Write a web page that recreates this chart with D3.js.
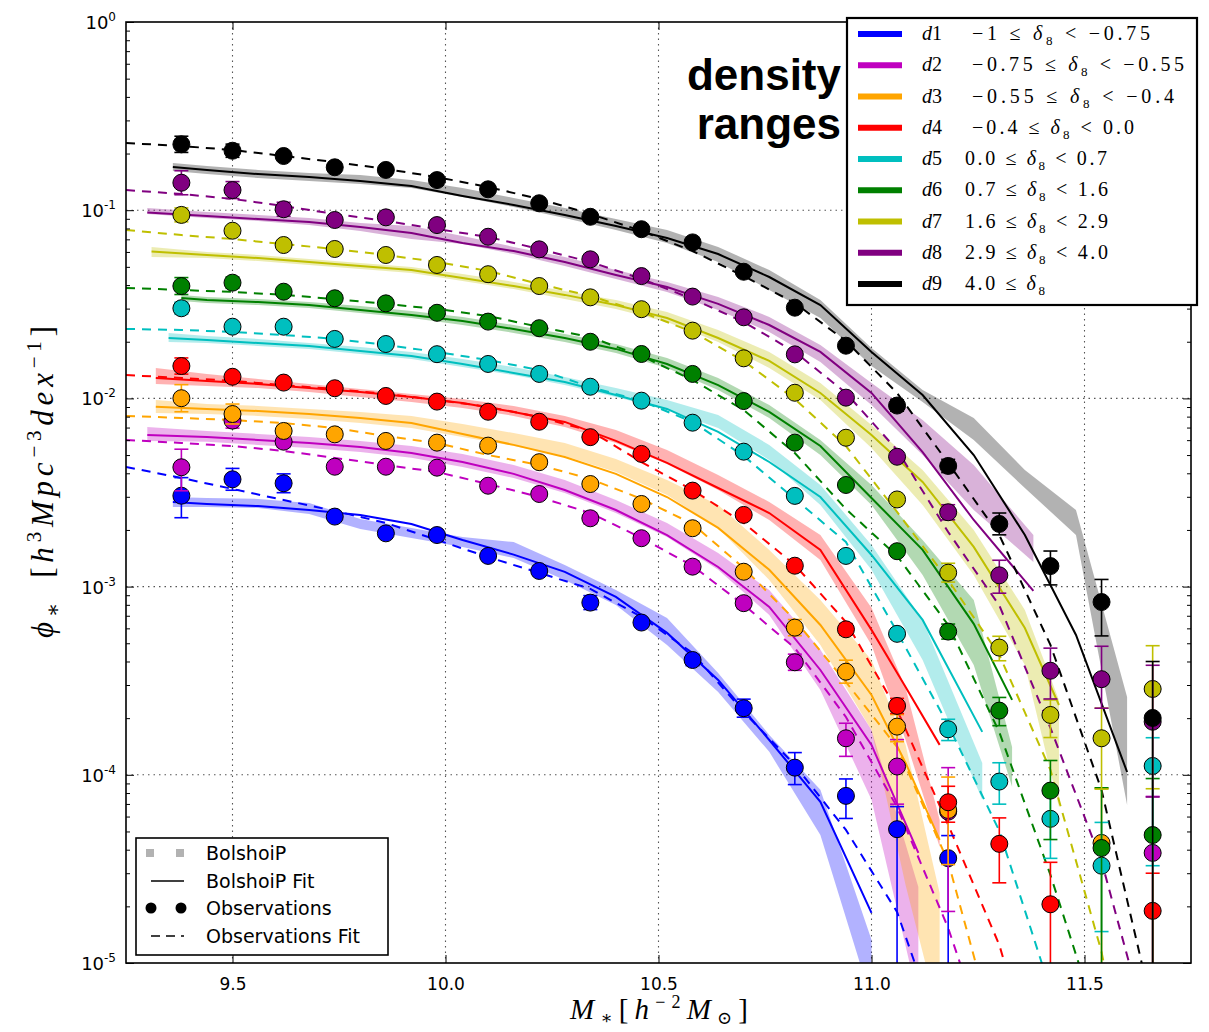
<!DOCTYPE html>
<html>
<head>
<meta charset="utf-8">
<script src="https://cdn.jsdelivr.net/npm/d3@7"></script>
<style>
  body { margin: 0; background: #fff; }
</style>
</head>
<body>
<svg id="chart" width="1209" height="1032"></svg>
<script>
// ---- data (phi values stored as log10) ----
const binNames = ["d1", "d2", "d3", "d4", "d5", "d6", "d7", "d8", "d9"];
const binColors = ["#0000ff", "#bf00bf", "#ffa500", "#ff0000", "#00bfbf", "#008000", "#bfbf00", "#800080", "#000000"];
const rangeLeft = ["\u22121 \u2264 ", "\u22120.75 \u2264 ", "\u22120.55 \u2264 ", "\u22120.4 \u2264 ", "0.0 \u2264 ", "0.7 \u2264 ", "1.6 \u2264 ", "2.9 \u2264 ", "4.0 \u2264 "];
const rangeRight = [" < \u22120.75", " < \u22120.55", " < \u22120.4", " < 0.0", " < 0.7", " < 1.6", " < 2.9", " < 4.0", ""];
const rangeWidth = [178, 212, 202, 162, 142, 143, 143, 143, 80];

const xTicks = [9.5, 10.0, 10.5, 11.0, 11.5];
const yMajor = [1, 1e-1, 1e-2, 1e-3, 1e-4, 1e-5];
const yExp = ["0", "-1", "-2", "-3", "-4", "-5"];

// observations
const obsMass = [9.38, 9.50, 9.62, 9.74, 9.86, 9.98, 10.10, 10.22, 10.34, 10.46, 10.58, 10.70, 10.82, 10.94, 11.06, 11.18, 11.30, 11.42, 11.54, 11.66];
const obsLog = [
  [-2.517, -2.430, -2.451, -2.628, -2.717, -2.726, -2.837, -2.917, -3.085, -3.191, -3.390, -3.646, -3.962, -4.112, -4.289, -4.443, null, null, null, null],
  [-2.366, -2.118, -2.230, -2.363, -2.363, -2.368, -2.464, -2.508, -2.637, -2.743, -2.894, -3.088, -3.402, -3.806, -3.956, -4.196, null, null, null, -4.415],
  [-1.999, -2.083, -2.173, -2.191, -2.226, -2.235, -2.251, -2.339, -2.455, -2.561, -2.690, -2.921, -3.218, -3.452, -3.744, -4.187, null, null, -4.362, null],
  [-1.828, -1.885, -1.916, -1.946, -1.987, -2.017, -2.071, -2.124, -2.206, -2.295, -2.490, -2.619, -2.889, -3.227, -3.634, -4.146, -4.367, -4.688, null, -4.723],
  [-1.521, -1.619, -1.619, -1.684, -1.711, -1.765, -1.817, -1.870, -1.938, -2.012, -2.129, -2.283, -2.518, -2.837, -3.251, -3.758, -4.036, -4.234, -4.483, -3.953],
  [-1.403, -1.385, -1.433, -1.468, -1.495, -1.545, -1.592, -1.627, -1.699, -1.764, -1.870, -2.014, -2.235, -2.460, -2.812, -3.239, -3.659, -4.084, -4.389, -4.320],
  [-1.025, -1.109, -1.185, -1.206, -1.238, -1.291, -1.340, -1.403, -1.463, -1.526, -1.640, -1.787, -1.970, -2.209, -2.537, -2.926, -3.324, -3.682, -3.806, -3.544],
  [-0.854, -0.893, -0.995, -1.052, -1.038, -1.079, -1.141, -1.208, -1.261, -1.350, -1.459, -1.569, -1.766, -1.996, -2.310, -2.605, -2.940, -3.447, -3.492, -3.718],
  [-0.650, -0.684, -0.712, -0.772, -0.786, -0.840, -0.889, -0.963, -1.035, -1.101, -1.171, -1.327, -1.518, -1.720, -2.038, -2.359, -2.667, -2.891, -3.082, -3.698]
];
// error bars in dex (9 = down to the axis)
const errUp = [
  [0.096, 0.058, 0.05, 0.02, 0.02, 0.02, 0.02, 0.02, 0.037, 0.02, 0.03, 0.048, 0.08, 0.09, 0.12, 0.12, 0, 0, 0, 0],
  [0.096, 0.04, 0.03, 0.02, 0.02, 0.02, 0.02, 0.02, 0.03, 0.02, 0.03, 0.03, 0.043, 0.08, 0.143, 0.234, 0, 0, 0, 0.30],
  [0.072, 0.053, 0.03, 0.02, 0.02, 0.02, 0.02, 0.02, 0.02, 0.02, 0.03, 0.03, 0.043, 0.061, 0.064, 0.175, 0, 0, 0.29, 0],
  [0.043, 0.02, 0.02, 0.02, 0.02, 0.02, 0.02, 0.02, 0.02, 0.02, 0.02, 0.02, 0.03, 0.03, 0.04, 0.085, 0.138, 0.223, 0, 0.2],
  [0.032, 0.02, 0.02, 0.02, 0.02, 0.02, 0.02, 0.02, 0.02, 0.02, 0.02, 0.02, 0.02, 0.02, 0.027, 0.053, 0.1, 0.13, 0.23, 0.15],
  [0.045, 0.03, 0.02, 0.02, 0.02, 0.02, 0.02, 0.02, 0.02, 0.02, 0.02, 0.02, 0.02, 0.02, 0.02, 0.04, 0.07, 0.16, 0.32, 0.30],
  [0.037, 0.02, 0.02, 0.02, 0.02, 0.02, 0.02, 0.02, 0.02, 0.02, 0.02, 0.02, 0.02, 0.02, 0.02, 0.05, 0.06, 0.08, 0.16, 0.23],
  [0.064, 0.045, 0.037, 0.02, 0.02, 0.02, 0.02, 0.02, 0.02, 0.02, 0.02, 0.02, 0.02, 0.02, 0.02, 0.04, 0.08, 0.12, 0.175, 0.3],
  [0.043, 0.035, 0.02, 0.02, 0.02, 0.02, 0.02, 0.02, 0.02, 0.02, 0.02, 0.02, 0.02, 0.02, 0.03, 0.035, 0.058, 0.08, 0.12, 0.30]
];
const errDn = [
  [0.117, 0.058, 0.05, 0.02, 0.02, 0.02, 0.02, 0.02, 0.037, 0.02, 0.03, 0.048, 0.09, 0.12, 9, 9, 0, 0, 0, 0],
  [0.125, 0.04, 0.03, 0.02, 0.02, 0.02, 0.02, 0.02, 0.03, 0.02, 0.03, 0.03, 0.043, 0.096, 0.2, 0.53, 0, 0, 0, 9],
  [0.072, 0.053, 0.03, 0.02, 0.02, 0.02, 0.02, 0.02, 0.02, 0.02, 0.03, 0.03, 0.043, 0.061, 0.08, 0.29, 0, 0, 9, 0],
  [0.043, 0.02, 0.02, 0.02, 0.02, 0.02, 0.02, 0.02, 0.02, 0.02, 0.02, 0.02, 0.03, 0.03, 0.04, 0.106, 0.207, 9, 0, 9],
  [0.032, 0.02, 0.02, 0.02, 0.02, 0.02, 0.02, 0.02, 0.02, 0.02, 0.02, 0.02, 0.02, 0.02, 0.027, 0.06, 0.12, 0.21, 0.35, 0.53],
  [0.045, 0.03, 0.02, 0.02, 0.02, 0.02, 0.02, 0.02, 0.02, 0.02, 0.02, 0.02, 0.02, 0.02, 0.02, 0.04, 0.08, 0.26, 9, 9],
  [0.037, 0.02, 0.02, 0.02, 0.02, 0.02, 0.02, 0.02, 0.02, 0.02, 0.02, 0.02, 0.02, 0.02, 0.02, 0.05, 0.07, 0.12, 0.27, 0.53],
  [0.064, 0.045, 0.037, 0.02, 0.02, 0.02, 0.02, 0.02, 0.02, 0.02, 0.02, 0.02, 0.02, 0.02, 0.02, 0.04, 0.095, 0.15, 0.154, 0.4],
  [0.043, 0.035, 0.02, 0.02, 0.02, 0.02, 0.02, 0.02, 0.02, 0.02, 0.02, 0.02, 0.02, 0.02, 0.03, 0.035, 0.058, 0.10, 0.18, 9]
];

// observations fit (dashed)
const fitMass = [9.25, 9.38, 9.50, 9.62, 9.74, 9.86, 9.98, 10.10, 10.22, 10.34, 10.46, 10.58, 10.70, 10.82, 10.94, 11.06, 11.18, 11.30, 11.42, 11.54, 11.66];
const obsFitLog = [
  [-2.364, -2.423, -2.481, -2.540, -2.598, -2.662, -2.752, -2.843, -2.927, -3.012, -3.161, -3.353, -3.666, -3.948, -4.293, -4.729, -5.51, null, null, null, null],
  [-2.221, -2.237, -2.253, -2.279, -2.316, -2.354, -2.391, -2.455, -2.524, -2.609, -2.741, -2.890, -3.097, -3.326, -3.693, -4.171, -4.814, -5.62, null, null, null],
  [-2.093, -2.104, -2.115, -2.131, -2.157, -2.200, -2.237, -2.301, -2.354, -2.428, -2.534, -2.667, -2.901, -3.177, -3.507, -3.852, -4.463, -5.46, null, null, null],
  [-1.876, -1.891, -1.907, -1.929, -1.950, -1.976, -2.008, -2.045, -2.099, -2.173, -2.338, -2.487, -2.662, -2.885, -3.188, -3.655, -4.266, -4.904, -5.83, null, null],
  [-1.631, -1.636, -1.647, -1.663, -1.684, -1.716, -1.753, -1.796, -1.849, -1.939, -2.014, -2.125, -2.306, -2.534, -2.763, -3.241, -3.735, -4.298, -5.143, null, null],
  [-1.413, -1.424, -1.434, -1.450, -1.472, -1.498, -1.525, -1.562, -1.620, -1.674, -1.775, -1.902, -2.062, -2.290, -2.588, -2.837, -3.204, -3.773, -4.532, -5.38, null],
  [-1.105, -1.132, -1.153, -1.180, -1.206, -1.238, -1.275, -1.323, -1.392, -1.456, -1.541, -1.647, -1.801, -2.003, -2.253, -2.603, -2.965, -3.363, -3.974, -4.941, -6.3],
  [-0.893, -0.914, -0.940, -0.978, -1.020, -1.057, -1.100, -1.142, -1.206, -1.275, -1.365, -1.472, -1.594, -1.753, -1.971, -2.274, -2.710, -3.100, -3.751, -4.46, -5.46],
  [-0.643, -0.659, -0.680, -0.712, -0.744, -0.781, -0.824, -0.877, -0.940, -1.020, -1.110, -1.217, -1.350, -1.493, -1.695, -1.971, -2.343, -2.726, -3.310, -4.081, -5.25]
];

// BolshoiP: fit (solid) and band
const bolMass = [
  [9.36, 9.44, 9.56, 9.68, 9.80, 9.92, 10.04, 10.16, 10.28, 10.40, 10.52, 10.64, 10.76, 10.88, 11.00],
  [9.30, 9.44, 9.56, 9.68, 9.80, 9.92, 10.04, 10.16, 10.28, 10.40, 10.52, 10.64, 10.76, 10.88, 11.00, 11.11],
  [9.32, 9.44, 9.56, 9.68, 9.80, 9.92, 10.04, 10.16, 10.28, 10.40, 10.52, 10.64, 10.76, 10.88, 11.00, 11.08, 11.16],
  [9.32, 9.44, 9.56, 9.68, 9.80, 9.92, 10.04, 10.16, 10.28, 10.40, 10.52, 10.64, 10.76, 10.88, 11.00, 11.08, 11.16],
  [9.35, 9.44, 9.56, 9.68, 9.80, 9.92, 10.04, 10.16, 10.28, 10.40, 10.52, 10.64, 10.76, 10.88, 11.00, 11.12, 11.26],
  [9.38, 9.44, 9.56, 9.68, 9.80, 9.92, 10.04, 10.16, 10.28, 10.40, 10.52, 10.64, 10.76, 10.88, 11.00, 11.12, 11.24, 11.33],
  [9.31, 9.44, 9.56, 9.68, 9.80, 9.92, 10.04, 10.16, 10.28, 10.40, 10.52, 10.64, 10.76, 10.88, 11.00, 11.12, 11.24, 11.36, 11.44],
  [9.30, 9.44, 9.56, 9.68, 9.80, 9.92, 10.04, 10.16, 10.28, 10.40, 10.52, 10.64, 10.76, 10.88, 11.00, 11.12, 11.24, 11.38],
  [9.36, 9.44, 9.56, 9.68, 9.80, 9.92, 10.04, 10.16, 10.28, 10.40, 10.52, 10.64, 10.76, 10.88, 11.00, 11.12, 11.24, 11.36, 11.48, 11.60]
];
const bolFitLog = [
  [-2.550, -2.561, -2.572, -2.593, -2.619, -2.667, -2.752, -2.830, -2.922, -3.055, -3.246, -3.496, -3.815, -4.144, -4.734],
  [-2.194, -2.205, -2.221, -2.237, -2.258, -2.290, -2.338, -2.401, -2.487, -2.593, -2.726, -2.896, -3.108, -3.443, -3.841, -4.415],
  [-2.045, -2.056, -2.067, -2.083, -2.104, -2.131, -2.189, -2.247, -2.311, -2.401, -2.524, -2.688, -2.911, -3.204, -3.576, -3.937, -4.346],
  [-1.891, -1.907, -1.923, -1.945, -1.966, -1.992, -2.024, -2.072, -2.125, -2.226, -2.343, -2.476, -2.609, -2.805, -3.230, -3.534, -3.841],
  [-1.679, -1.690, -1.706, -1.721, -1.748, -1.775, -1.817, -1.865, -1.913, -1.982, -2.056, -2.178, -2.338, -2.524, -2.832, -3.177, -3.772],
  [-1.466, -1.477, -1.488, -1.504, -1.530, -1.557, -1.589, -1.631, -1.679, -1.737, -1.817, -1.929, -2.072, -2.253, -2.529, -2.805, -3.198, -3.602],
  [-1.220, -1.238, -1.254, -1.275, -1.296, -1.318, -1.360, -1.403, -1.450, -1.504, -1.573, -1.679, -1.801, -1.971, -2.194, -2.444, -2.789, -3.220, -3.629],
  [-1.012, -1.031, -1.047, -1.063, -1.089, -1.121, -1.174, -1.217, -1.275, -1.344, -1.408, -1.498, -1.610, -1.753, -1.971, -2.285, -2.646, -3.023],
  [-0.770, -0.786, -0.808, -0.824, -0.845, -0.871, -0.924, -0.972, -1.025, -1.084, -1.148, -1.233, -1.355, -1.504, -1.753, -1.982, -2.301, -2.726, -3.257, -3.985]
];
const bolHiLog = [
  [-2.524, -2.529, -2.534, -2.556, -2.641, -2.688, -2.736, -2.763, -2.885, -3.018, -3.167, -3.459, -3.788, -4.080, -4.877],
  [-2.152, -2.173, -2.189, -2.205, -2.226, -2.253, -2.295, -2.354, -2.433, -2.540, -2.662, -2.821, -3.018, -3.336, -3.762, -4.596],
  [-2.008, -2.030, -2.040, -2.056, -2.072, -2.093, -2.136, -2.184, -2.237, -2.322, -2.433, -2.566, -2.805, -3.071, -3.390, -3.841, -4.628],
  [-1.838, -1.870, -1.897, -1.923, -1.950, -1.976, -2.003, -2.040, -2.093, -2.168, -2.274, -2.407, -2.550, -2.726, -3.113, -3.538, -4.240],
  [-1.652, -1.668, -1.684, -1.706, -1.727, -1.753, -1.790, -1.833, -1.886, -1.945, -2.008, -2.088, -2.247, -2.460, -2.779, -3.177, -3.937],
  [-1.450, -1.461, -1.472, -1.488, -1.509, -1.535, -1.567, -1.610, -1.658, -1.711, -1.785, -1.891, -2.035, -2.221, -2.460, -2.752, -3.071, -3.852],
  [-1.195, -1.222, -1.238, -1.259, -1.280, -1.302, -1.339, -1.381, -1.429, -1.477, -1.541, -1.636, -1.753, -1.918, -2.141, -2.380, -2.699, -3.124, -3.602],
  [-0.988, -1.009, -1.025, -1.041, -1.068, -1.084, -1.137, -1.195, -1.249, -1.318, -1.381, -1.461, -1.567, -1.716, -1.918, -2.115, -2.354, -2.726],
  [-0.749, -0.765, -0.786, -0.802, -0.813, -0.840, -0.882, -0.935, -0.988, -1.047, -1.105, -1.195, -1.318, -1.477, -1.732, -1.955, -2.104, -2.380, -2.593, -3.586]
];
const bolLoLog = [
  [-2.577, -2.577, -2.582, -2.614, -2.694, -2.742, -2.789, -2.848, -2.965, -3.098, -3.310, -3.560, -3.878, -4.320, -5.20],
  [-2.226, -2.231, -2.247, -2.263, -2.285, -2.316, -2.364, -2.423, -2.502, -2.609, -2.736, -2.911, -3.151, -3.549, -4.133, -5.20],
  [-2.077, -2.083, -2.093, -2.109, -2.131, -2.157, -2.205, -2.253, -2.306, -2.391, -2.513, -2.688, -2.965, -3.310, -3.762, -4.585, -5.30],
  [-1.923, -1.934, -1.945, -1.966, -1.992, -2.019, -2.051, -2.093, -2.152, -2.237, -2.348, -2.487, -2.646, -2.858, -3.310, -3.815, -4.383],
  [-1.700, -1.706, -1.721, -1.737, -1.764, -1.790, -1.833, -1.876, -1.929, -1.992, -2.061, -2.157, -2.327, -2.566, -2.911, -3.390, -4.133],
  [-1.482, -1.493, -1.504, -1.520, -1.546, -1.573, -1.610, -1.652, -1.700, -1.759, -1.838, -1.955, -2.104, -2.301, -2.566, -2.938, -3.416, -4.064],
  [-1.249, -1.254, -1.270, -1.291, -1.312, -1.334, -1.376, -1.419, -1.472, -1.525, -1.594, -1.700, -1.838, -2.008, -2.263, -2.566, -2.938, -3.416, -4.171],
  [-1.020, -1.041, -1.057, -1.079, -1.110, -1.153, -1.179, -1.233, -1.296, -1.365, -1.434, -1.530, -1.647, -1.806, -2.035, -2.301, -2.593, -2.869],
  [-0.792, -0.808, -0.829, -0.845, -0.861, -0.882, -0.930, -0.983, -1.041, -1.105, -1.174, -1.275, -1.424, -1.573, -1.828, -2.019, -2.221, -2.476, -2.726, -4.160]
];

// ---- chart ----
const svg = d3.select("#chart");
const plot = { left: 126, right: 1191, top: 22, bottom: 963 };

const x = d3.scaleLinear().domain([9.25, 11.75]).range([plot.left, plot.right]);
const y = d3.scaleLog().domain([1e-5, 1]).range([plot.bottom, plot.top]);
const yv = v => y(Math.pow(10, v));

svg.append("defs").append("clipPath").attr("id", "plotClip")
  .append("rect")
  .attr("x", plot.left).attr("y", plot.top)
  .attr("width", plot.right - plot.left).attr("height", plot.bottom - plot.top);

// dotted grid
const grid = svg.append("g")
  .attr("stroke", "#555").attr("stroke-width", 1.1).attr("stroke-dasharray", "1.5,4");
grid.selectAll("line.gx").data(xTicks).join("line").attr("class", "gx")
  .attr("x1", d => x(d)).attr("x2", d => x(d))
  .attr("y1", plot.top).attr("y2", plot.bottom);
grid.selectAll("line.gy").data(yMajor.slice(1, 5)).join("line").attr("class", "gy")
  .attr("x1", plot.left).attr("x2", plot.right)
  .attr("y1", d => y(d)).attr("y2", d => y(d));

const inner = svg.append("g").attr("clip-path", "url(#plotClip)");

// BolshoiP bands
const band = d3.area()
  .x(d => x(d.m)).y0(d => yv(d.lo)).y1(d => yv(d.hi));
binColors.forEach((c, i) => {
  const pts = bolMass[i].map((m, k) => ({ m, lo: bolLoLog[i][k], hi: bolHiLog[i][k] }));
  inner.append("path").datum(pts)
    .attr("d", band).attr("fill", c).attr("fill-opacity", 0.3).attr("stroke", "none");
});

// BolshoiP fits (solid)
const line = d3.line().defined(d => d.v != null).x(d => x(d.m)).y(d => yv(d.v));
binColors.forEach((c, i) => {
  const pts = bolMass[i].map((m, k) => ({ m, v: bolFitLog[i][k] }));
  inner.append("path").datum(pts)
    .attr("d", line).attr("fill", "none").attr("stroke", c).attr("stroke-width", 2);
});

// observation fits (dashed)
binColors.forEach((c, i) => {
  const pts = fitMass.map((m, k) => ({ m, v: obsFitLog[i][k] }));
  inner.append("path").datum(pts)
    .attr("d", line).attr("fill", "none").attr("stroke", c)
    .attr("stroke-width", 2).attr("stroke-dasharray", "9,7");
});

// observations with error bars
binColors.forEach((c, i) => {
  const g = inner.append("g");
  obsMass.forEach((m, k) => {
    const v = obsLog[i][k];
    if (v == null) return;
    const cx = x(m);
    const up = errUp[i][k], dn = errDn[i][k];
    const y1 = yv(v + up);
    const y2 = dn >= 5 ? plot.bottom + 5 : yv(v - dn);
    g.append("line").attr("x1", cx).attr("x2", cx).attr("y1", y1).attr("y2", y2)
      .attr("stroke", c).attr("stroke-width", 1.6);
    if (up > 0) g.append("line").attr("x1", cx - 7).attr("x2", cx + 7).attr("y1", y1).attr("y2", y1)
      .attr("stroke", c).attr("stroke-width", 1.6);
    if (dn > 0 && dn < 5) g.append("line").attr("x1", cx - 7).attr("x2", cx + 7).attr("y1", y2).attr("y2", y2)
      .attr("stroke", c).attr("stroke-width", 1.6);
  });
  g.selectAll("circle").data(obsMass.map((m, k) => ({ m, v: obsLog[i][k] })).filter(d => d.v != null))
    .join("circle")
    .attr("cx", d => x(d.m)).attr("cy", d => yv(d.v)).attr("r", 8.5)
    .attr("fill", c).attr("stroke", "#000").attr("stroke-width", 1);
});

// axes (inward ticks)
const yMinor = [];
for (let e = -5; e < 0; e++) for (let j = 2; j <= 9; j++) yMinor.push(j * Math.pow(10, e));

function styleAxis(g) {
  g.select(".domain").remove();
  g.selectAll(".tick line").attr("stroke", "#000").attr("stroke-width", 1);
}
svg.append("g").attr("transform", `translate(0,${plot.bottom})`)
  .call(d3.axisBottom(x).tickValues(xTicks).tickSize(-8).tickPadding(15).tickFormat(d3.format(".1f")))
  .call(styleAxis)
  .call(g => g.selectAll("text").attr("font-family", "DejaVu Sans").attr("font-size", 17).attr("fill", "#000"));
svg.append("g").attr("transform", `translate(0,${plot.top})`)
  .call(d3.axisTop(x).tickValues(xTicks).tickSize(-8).tickFormat(""))
  .call(styleAxis);
svg.append("g").attr("transform", `translate(${plot.left},0)`)
  .call(d3.axisLeft(y).tickValues(yMajor).tickSize(-8).tickFormat(""))
  .call(styleAxis);
svg.append("g").attr("transform", `translate(${plot.left},0)`)
  .call(d3.axisLeft(y).tickValues(yMinor).tickSize(-4).tickFormat(""))
  .call(styleAxis);
svg.append("g").attr("transform", `translate(${plot.right},0)`)
  .call(d3.axisRight(y).tickValues(yMajor).tickSize(-8).tickFormat(""))
  .call(styleAxis);
svg.append("g").attr("transform", `translate(${plot.right},0)`)
  .call(d3.axisRight(y).tickValues(yMinor).tickSize(-4).tickFormat(""))
  .call(styleAxis);

svg.append("rect")
  .attr("x", plot.left).attr("y", plot.top)
  .attr("width", plot.right - plot.left).attr("height", plot.bottom - plot.top)
  .attr("fill", "none").attr("stroke", "#000").attr("stroke-width", 1.6);

// y tick labels 10^n
yMajor.forEach((v, i) => {
  const t = svg.append("text")
    .attr("x", 116).attr("y", y(v) + 7)
    .attr("text-anchor", "end")
    .attr("font-family", "DejaVu Sans").attr("font-size", 18).attr("fill", "#000");
  t.append("tspan").text("10");
  t.append("tspan").attr("dy", -8).attr("font-size", 12).text(yExp[i]);
});

// x axis title
const xt = svg.append("text")
  .attr("x", 659).attr("y", 1019).attr("text-anchor", "middle")
  .attr("font-family", "Liberation Serif, DejaVu Serif, serif").attr("font-size", 29).attr("fill", "#000")
  .attr("textLength", 178).attr("lengthAdjust", "spacing");
xt.append("tspan").attr("font-style", "italic").text("M");
xt.append("tspan").attr("dy", 5).attr("font-size", 18).text("\u2217");
xt.append("tspan").attr("dy", -5).text("[");
xt.append("tspan").attr("font-style", "italic").text("h");
xt.append("tspan").attr("dy", -11).attr("font-size", 18).text("\u22122");
xt.append("tspan").attr("dy", 11).attr("font-style", "italic").text("M");
xt.append("tspan").attr("dy", 5).attr("font-size", 18).text("\u2299");
xt.append("tspan").attr("dy", -5).text("]");

// y axis title
const yt = svg.append("text")
  .attr("transform", "translate(53,482) rotate(-90)")
  .attr("text-anchor", "middle")
  .attr("font-family", "Liberation Serif, DejaVu Serif, serif").attr("font-size", 31).attr("fill", "#000")
  .attr("textLength", 312).attr("lengthAdjust", "spacing");
yt.append("tspan").attr("font-style", "italic").text("\u03d5");
yt.append("tspan").attr("dy", 7).attr("font-size", 21).text("\u2217");
yt.append("tspan").attr("dy", -7).text("\u2002[");
yt.append("tspan").attr("font-style", "italic").text("h");
yt.append("tspan").attr("dy", -12).attr("font-size", 21).text("3");
yt.append("tspan").attr("dy", 12).attr("font-style", "italic").text("Mpc");
yt.append("tspan").attr("dy", -12).attr("font-size", 21).text("\u22123");
yt.append("tspan").attr("dy", 12).attr("font-style", "italic").text("dex");
yt.append("tspan").attr("dy", -12).attr("font-size", 21).text("\u22121");
yt.append("tspan").attr("dy", 12).text("]");

// density legend (upper right)
const leg = svg.append("g");
leg.append("rect").attr("x", 847).attr("y", 18).attr("width", 350).attr("height", 287)
  .attr("fill", "#fff").attr("stroke", "#000").attr("stroke-width", 2.2);
binNames.forEach((name, i) => {
  const ly = 34 + i * 31.25;
  leg.append("line").attr("x1", 858).attr("x2", 902).attr("y1", ly).attr("y2", ly)
    .attr("stroke", binColors[i]).attr("stroke-width", 6);
  const nt = leg.append("text").attr("x", 922).attr("y", ly + 6)
    .attr("font-family", "Liberation Serif, DejaVu Serif, serif").attr("font-size", 20).attr("fill", "#000");
  nt.append("tspan").attr("font-style", "italic").text(name[0]);
  nt.append("tspan").text(name.slice(1));
  const rt = leg.append("text").attr("x", i < 4 ? 972 : 965).attr("y", ly + 6)
    .attr("font-family", "Liberation Serif, DejaVu Serif, serif").attr("font-size", 20).attr("fill", "#000")
    .attr("textLength", rangeWidth[i]).attr("lengthAdjust", "spacing");
  rt.append("tspan").text(rangeLeft[i]);
  rt.append("tspan").attr("font-style", "italic").text("\u03b4");
  rt.append("tspan").attr("dy", 5).attr("font-size", 13).text("8");
  rt.append("tspan").attr("dy", -5).text(rangeRight[i]);
});

// annotation
svg.append("text").attr("x", 841).attr("y", 90).attr("text-anchor", "end")
  .attr("font-family", "Liberation Sans, Arial, sans-serif").attr("font-weight", "bold")
  .attr("font-size", 44).attr("fill", "#000").text("density");
svg.append("text").attr("x", 841).attr("y", 139).attr("text-anchor", "end")
  .attr("font-family", "Liberation Sans, Arial, sans-serif").attr("font-weight", "bold")
  .attr("font-size", 44).attr("fill", "#000").text("ranges");

// style legend (lower left)
const leg2 = svg.append("g");
leg2.append("rect").attr("x", 136).attr("y", 838).attr("width", 252).attr("height", 117)
  .attr("fill", "#fff").attr("stroke", "#000").attr("stroke-width", 1.6);
const styleLabels = ["BolshoiP", "BolshoiP Fit", "Observations", "Observations Fit"];
const rowY = [853, 881, 908, 936];
[146, 176].forEach(px => leg2.append("rect").attr("x", px).attr("y", rowY[0] - 4)
  .attr("width", 8).attr("height", 8).attr("fill", "#000").attr("fill-opacity", 0.3));
leg2.append("line").attr("x1", 151).attr("x2", 184).attr("y1", rowY[1]).attr("y2", rowY[1])
  .attr("stroke", "#000").attr("stroke-width", 1.6);
[151, 181].forEach(px => leg2.append("circle").attr("cx", px).attr("cy", rowY[2]).attr("r", 5.5).attr("fill", "#000"));
leg2.append("line").attr("x1", 151).attr("x2", 184).attr("y1", rowY[3]).attr("y2", rowY[3])
  .attr("stroke", "#000").attr("stroke-width", 1.6).attr("stroke-dasharray", "9,6");
styleLabels.forEach((s, i) => {
  leg2.append("text").attr("x", 206).attr("y", rowY[i] + 7)
    .attr("font-family", "DejaVu Sans").attr("font-size", 19).attr("fill", "#000").text(s);
});
</script>
</body>
</html>
